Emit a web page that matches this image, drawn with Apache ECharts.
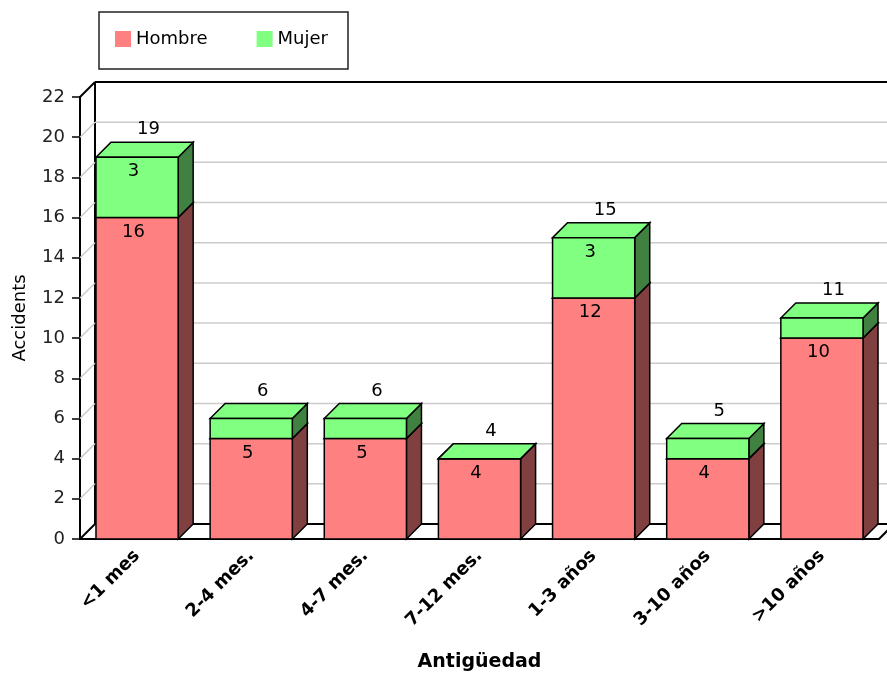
<!DOCTYPE html>
<html>
<head>
<meta charset="utf-8">
<script src="https://cdn.jsdelivr.net/npm/echarts@6/dist/echarts.min.js"></script>
<style>
html,body{margin:0;padding:0;background:#fff;}
#chart{width:887px;height:673px;}
</style>
</head>
<body>
<div id="chart"></div>
<script>
const categories = ['<1 mes', '2-4 mes.', '4-7 mes.', '7-12 mes.', '1-3 años', '3-10 años', '>10 años'];
const hombre = [16, 5, 5, 4, 12, 4, 10];
const mujer = [3, 1, 1, 0, 3, 1, 1];
const yTicks = [0, 2, 4, 6, 8, 10, 12, 14, 16, 18, 20, 22];

const FONT = 'DejaVu Sans';
const D = 15;            // 3D depth offset (px)
const BAR_RATIO = 0.72;  // bar width / category band
const RED = '#FF8080', RED_SIDE = '#804040';
const GREEN = '#80FF80', GREEN_SIDE = '#408040';

function barItem(color, sideColor, showTotal) {
  return function (params, api) {
    const i = api.value(0), b = api.value(1), t = api.value(2);
    const p0 = api.coord([i, b]);
    const p1 = api.coord([i, t]);
    const bw = api.size([1, 0])[0] * BAR_RATIO;
    const x0 = p0[0] - bw / 2, x1 = x0 + bw;
    const yb = p0[1], yt = p1[1];
    const stroke = { stroke: '#000', lineWidth: 1.5 };
    const children = [
      { type: 'polygon', shape: { points: [[x1, yb], [x1 + D, yb - D], [x1 + D, yt - D], [x1, yt]] },
        style: Object.assign({ fill: sideColor }, stroke) },
      { type: 'polygon', shape: { points: [[x0, yt], [x0 + D, yt - D], [x1 + D, yt - D], [x1, yt]] },
        style: Object.assign({ fill: color }, stroke) },
      { type: 'rect', shape: { x: x0, y: yt, width: bw, height: yb - yt },
        style: Object.assign({ fill: color }, stroke) }
    ];
    if (yb - yt >= 24) {
      children.push({ type: 'text', style: { text: String(t - b), x: p0[0] - 3.5, y: yt + 14.5,
        align: 'center', verticalAlign: 'middle', fill: '#000', font: '18px ' + FONT } });
    }
    if (showTotal) {
      children.push({ type: 'text', style: { text: String(t), x: p0[0] + 11.5, y: yt - 27.5,
        align: 'center', verticalAlign: 'middle', fill: '#000', font: '18px ' + FONT } });
    }
    return { type: 'group', children: children };
  };
}

function wallItem(params, api) {
  const v = api.value(1);
  const cs = params.coordSys;
  const y = api.coord([0, v])[1];
  const edge = (v === yTicks[0] || v === yTicks[yTicks.length - 1]);
  const st = edge ? { stroke: '#000', lineWidth: 2 } : { stroke: '#cccccc', lineWidth: 1.5 };
  const children = [
    { type: 'line', shape: { x1: cs.x, y1: y, x2: cs.x + D, y2: y - D }, style: st },
    { type: 'line', shape: { x1: cs.x + D, y1: y - D, x2: cs.x + cs.width + D, y2: y - D }, style: st }
  ];
  if (v === yTicks[0]) {
    children.push({ type: 'line', shape: { x1: cs.x + D, y1: cs.y - D, x2: cs.x + D, y2: cs.y + cs.height - D },
      style: { stroke: '#000', lineWidth: 2 } });
    children.push({ type: 'line', shape: { x1: cs.x + cs.width, y1: y, x2: cs.x + cs.width + D, y2: y - D },
      style: { stroke: '#000', lineWidth: 2 } });
  }
  return { type: 'group', children: children };
}

const chart = echarts.init(document.getElementById('chart'), null, { renderer: 'canvas' });
chart.setOption({
  animation: false,
  backgroundColor: '#fff',
  legend: {
    data: ['Hombre', 'Mujer'],
    left: 99, top: 12,
    icon: 'rect', itemWidth: 16, itemHeight: 16, itemGap: 49,
    padding: [18, 20, 21, 16],
    borderColor: '#222', borderWidth: 1.5,
    itemStyle: { borderWidth: 0 },
    textStyle: { fontFamily: FONT, fontSize: 18, color: '#000' }
  },
  grid: { left: 80, right: 8, top: 97, bottom: 134, containLabel: false, outerBoundsMode: 'none' },
  xAxis: {
    type: 'category',
    data: categories,
    name: 'Antigüedad',
    nameLocation: 'middle',
    nameGap: 114,
    nameTextStyle: { fontFamily: FONT, fontSize: 19, fontWeight: 'bold', color: '#000' },
    axisLine: { lineStyle: { color: '#000', width: 2 } },
    axisTick: { alignWithLabel: true, length: 8, lineStyle: { color: '#000', width: 1.5 } },
    axisLabel: { rotate: 45, margin: 14, fontFamily: FONT, fontSize: 18, fontWeight: 'bold', color: '#000', interval: 0 },
    splitLine: { show: false }
  },
  yAxis: {
    type: 'value',
    min: 0, max: 22, interval: 2,
    name: 'Accidents',
    nameLocation: 'middle',
    nameGap: 51,
    nameTextStyle: { fontFamily: FONT, fontSize: 18, color: '#000' },
    axisLine: { show: true, lineStyle: { color: '#000', width: 2 } },
    axisTick: { show: true, length: 8, lineStyle: { color: '#000', width: 1.5 } },
    axisLabel: { margin: 15, fontFamily: FONT, fontSize: 18, color: '#222' },
    splitLine: { show: false }
  },
  series: [
    {
      name: 'walls', type: 'custom', silent: true, clip: false, z: 1,
      data: yTicks.map(v => [0, v]),
      encode: { x: 0, y: 1 },
      renderItem: wallItem
    },
    {
      name: 'Hombre', type: 'custom', clip: false, z: 3,
      itemStyle: { color: RED },
      data: categories.map((c, i) => [i, 0, hombre[i]]),
      encode: { x: 0, y: [1, 2] },
      renderItem: barItem(RED, RED_SIDE, false)
    },
    {
      name: 'Mujer', type: 'custom', clip: false, z: 4,
      itemStyle: { color: GREEN },
      data: categories.map((c, i) => [i, hombre[i], hombre[i] + mujer[i]]),
      encode: { x: 0, y: [1, 2] },
      renderItem: barItem(GREEN, GREEN_SIDE, true)
    }
  ]
});
</script>
</body>
</html>
